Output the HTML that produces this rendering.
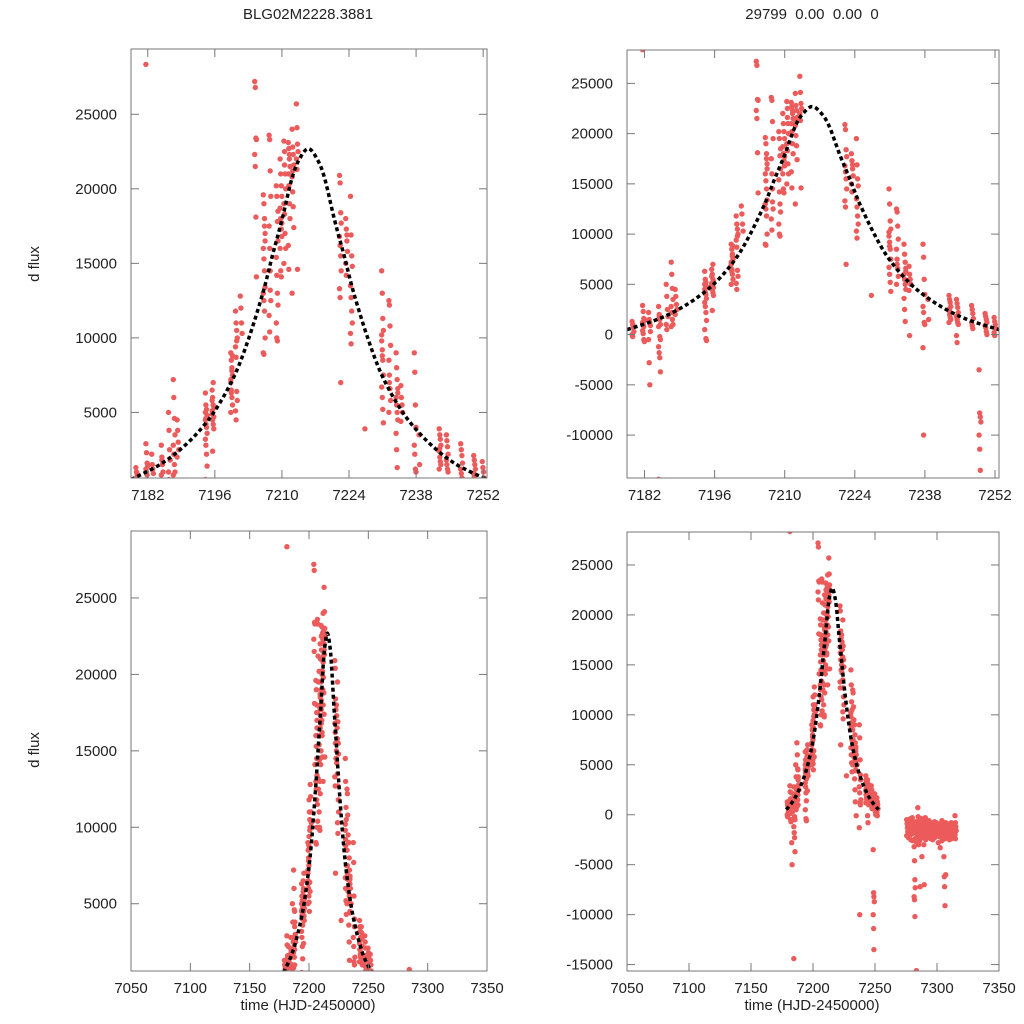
<!DOCTYPE html>
<html><head><meta charset="utf-8"><style>
html,body{margin:0;padding:0;background:#fff;width:1024px;height:1024px;overflow:hidden;}
svg{display:block;font-family:"Liberation Sans",sans-serif;}
</style></head><body>
<svg id="fig" width="1024" height="1024" viewBox="0 0 1024 1024" xmlns="http://www.w3.org/2000/svg">
<text x="308" y="19" font-size="15" text-anchor="middle" fill="#222">BLG02M2228.3881</text>
<text x="812" y="19" font-size="15" text-anchor="middle" fill="#222" xml:space="preserve">29799  0.00  0.00  0</text>
<text x="308" y="1010" font-size="15" text-anchor="middle" fill="#222">time (HJD-2450000)</text>
<text x="812" y="1010" font-size="15" text-anchor="middle" fill="#222">time (HJD-2450000)</text>
<text transform="translate(39,264) rotate(-90)" font-size="15" text-anchor="middle" fill="#222">d flux</text>
<text transform="translate(39,750) rotate(-90)" font-size="15" text-anchor="middle" fill="#222">d flux</text>
</svg>
<script>
// ---- data: nightly clusters (time, flux values) ----
const clusterT = [7179.7,7181.8,7183,7185,7186.5,7187.5,7188.3,7194.2,7195.6,7199.5,7200.5,7201.5,7204.5,7206.3,7207.5,7209,7209.8,7210.6,7211.5,7212.3,7213.2,7222.2,7223.5,7224.5,7227.5,7231,7232.5,7234,7235,7237.8,7238.8,7243,7244.5,7247.5,7249,7250.2,7252];
const clusterF = [
 [1300,1000,700,300,0,-200,900],
 [2900,2300,1600,1400,1200,1000,800,1500,400,100,-500,-700,28350],
 [2200,1500,1200,900,-500,-2800,-5000,300],
 [2800,2000,1500,1000,800,1800,-200,-500,-1200,-1800,-2300,-3700,-14400],
 [5000,3800,2500,1800,1000,500],
 [7200,6000,4600,3500,2800,2200,1500,1000,800],
 [4500,3800,3000,2500,2000],
 [6300,5500,5200,4800,4500,4200,4000,3600,3200,2800,2200,1400,5000,4600,-400,-600,500],
 [6500,6000,5500,5300,4900,4500,4200,3900,5800,2400,7000,4700,5100],
 [9000,8500,8000,7500,7000,6500,6000,5500,5000,6300,7800,8800,7200],
 [11800,11000,10500,10000,9400,8700,6400,5800,5100,4500,9800],
 [12800,12000,11000,10300],
 [27200,26800,23400,23300,22300,21500,18100,14100],
 [19600,19000,18000,17000,16000,15300,14500,13400,13000,12500,11800,10000,9000,8900,17500,16500],
 [23600,23300,21200,19500,17500,16000,14500,12500,11500,10400,13200],
 [20200,19500,17800,16500,15400,14200,13000,12200,11000,10000,9800,18500],
 [22000,21000,20200,19500,18700,18000,17300,16800,16000,14500,14100,17700],
 [23200,22500,21000,20000,19000,18300,17000,16000,15000,21600],
 [23100,22700,22000,21500,21000,20200,19000,18000,16200,14600,22300],
 [24000,22800,22300,21600,20800,19800,18800,17400,13000,21200],
 [25700,24100,23000,22500,22000,21300,14600],
 [20900,20400,18400,17700,16800,16200,15500,14500,13300,12700,7000],
 [18000,17300,16500,15800,15000,14200,16900],
 [19500,16900,15500,14800,13500,12700,11800,11000,10300,9600],
 [3900],
 [14500,13000,11300,10500,9800,9200,8500,7500,6700,6000,5200,4300,10200,8800],
 [12500,12200,10800,9500,8500,7500,6600,5800,5000,7000],
 [9000,8000,7200,6600,6000,5500,5000,4500,3600,2500,1300,6300],
 [6800,6000,5500,5000,4400,-100],
 [9000,7700,5500,4000,2800,2200,1200,1000,-1300,-10000],
 [3500,1500],
 [3900,3500,3200,2800,2400,2000,1700,1500,1200,2600],
 [3500,3100,2700,2200,1800,1500,1200,1000,-100,-800],
 [2900,2500,2100,1600,1200,900,600],
 [-3500,-7800,-8200,-8700,-10000,-11400,-13500],
 [2100,1800,1500,1200,900,700,300,0],
 [1700,1300,1000,600,200,-100]
];
const lateT = [7276,7277.5,7279,7280.5,7282,7283.5,7285,7286.5,7288,7289.5,7291,7292.5,7294,7295.5,7297,7298.5,7300,7301.5,7303,7304.5,7306,7307.5,7309,7310.5,7312,7313.5,7315];
const lateF = [
 [-500,-900,-1300,-1700,-2100],
 [-600,-1000,-1400,-1900,-2300,-1200],
 [-400,-800,-1200,-1600,-2000,-2500],
 [-300,-700,-1100,-1500,-1900,-2600],
 [-900,-1300,-1800,-2400,-3200,-4600,-6500,-7300,-8200,-8500,-10200],
 [-700,-1100,-1500,-2000,-2700,-15600],
 [700,-200,-800,-1300,-1700,-2200,-3000],
 [-500,-1000,-1500,-2000,-2600,-7200],
 [-400,-900,-1300,-1700,-2100,-4200],
 [-600,-1000,-1400,-1800,-2300,-3000,-7000],
 [-300,-800,-1200,-1600,-2000,-2500],
 [-700,-1100,-1500,-1900,-2300],
 [-600,-1000,-1400,-1800,-2200],
 [-800,-1200,-1600,-2000,-2400],
 [-900,-1300,-1700,-2100,-2500],
 [-700,-1100,-1500,-1900,-2300],
 [-800,-1200,-1600,-2000],
 [-1000,-1400,-1800,-2200,-2800],
 [-900,-1300,-1700,-2100,-3300],
 [-600,-1100,-1500,-2000,-2600],
 [-900,-1300,-1800,-2400,-4200,-6200,-7200,-9100],
 [-800,-1200,-1600,-2000,-6000],
 [-1000,-1400,-1800,-2200],
 [-900,-1300,-1700,-2100,-2500],
 [-800,-1200,-1600,-2000,-2400],
 [-1000,-1400,-1800,-2200],
 [-100,-800,-1200,-1600,-2000,-2400]
];
// ---- model fit curve ----
const modelT = [7178.5,7184,7188,7192,7196,7200,7203,7206,7208,7210,7212,7213.5,7215.5,7217.5,7219,7221,7223,7225,7228,7231,7235,7239,7243,7247,7252.8];
const modelF = [500,1400,2300,3500,5100,7400,9900,13000,15500,17900,20600,21900,22700,21900,20600,17900,15500,13000,9900,7400,5100,3500,2300,1400,500];
// ---- tick labels ----
const ticksXZoom = [7182,7196,7210,7224,7238,7252];
const ticksXFull = [7050,7100,7150,7200,7250,7300,7350];
const ticksYPos = [5000,10000,15000,20000,25000];
const ticksYTR = [-10000,-5000,0,5000,10000,15000,20000,25000];
const ticksYBR = [-15000,-10000,-5000,0,5000,10000,15000,20000,25000];

const NS = "http://www.w3.org/2000/svg";
const svg = document.getElementById('fig');
function mk(tag, attrs, parent){const e=document.createElementNS(NS,tag);for(const k in attrs)e.setAttribute(k,attrs[k]);(parent||svg).appendChild(e);return e;}

const panels = [
 {id:'top-left', x0:131,x1:487,y0:49,y1:478, xd:[7178.5,7252.8], yd:[600,29380], xt:ticksXZoom, yt:ticksYPos},
 {id:'top-right', x0:627,x1:999,y0:50,y1:478, xd:[7178.5,7252.8], yd:[-14270,28320], xt:ticksXZoom, yt:ticksYTR},
 {id:'bottom-left', x0:131,x1:487,y0:531,y1:971, xd:[7050,7350], yd:[600,29380], xt:ticksXFull, yt:ticksYPos},
 {id:'bottom-right', x0:627,x1:999,y0:532,y1:971, xd:[7050,7350], yd:[-15640,28300], xt:ticksXFull, yt:ticksYBR}
];

panels.forEach(p=>{
  const sx = t => p.x0 + (t-p.xd[0])/(p.xd[1]-p.xd[0])*(p.x1-p.x0);
  const sy = v => p.y1 - (v-p.yd[0])/(p.yd[1]-p.yd[0])*(p.y1-p.y0);
  const g = mk('g',{});
  
  
  const cp = mk('clipPath',{id:'clip-'+p.id},g);
  mk('rect',{x:p.x0,y:p.y0,width:p.x1-p.x0,height:p.y1-p.y0},cp);
  const pts = mk('g',{'clip-path':'url(#clip-'+p.id+')',fill:'#ec5b5b'},g);
  
  
  const spread = (p.xd[1]-p.xd[0])>100 ? 0.3 : 0.12;
  clusterT.forEach((t,i)=>{
    clusterF[i].forEach((f,j)=>{
      const c = mk('circle',{cx:sx(t+((j%4)-1.5)*spread).toFixed(1),cy:sy(f).toFixed(1),r:2.7},pts);
      
      
    });
  });
  lateT.forEach((t,i)=>{
    lateF[i].forEach((f,j)=>{
      const c = mk('circle',{cx:sx(t+((j%4)-1.5)*0.3).toFixed(1),cy:sy(f).toFixed(1),r:2.7},pts);
      
      
    });
  });
  // smooth curve through model points (Catmull-Rom)
  const P = modelT.map((t,i)=>[sx(t),sy(modelF[i])]);
  let d = 'M'+P[0][0].toFixed(1)+','+P[0][1].toFixed(1);
  for(let i=0;i<P.length-1;i++){
    const p0=P[Math.max(0,i-1)],p1=P[i],p2=P[i+1],p3=P[Math.min(P.length-1,i+2)];
    const c1=[p1[0]+(p2[0]-p0[0])/6,p1[1]+(p2[1]-p0[1])/6];
    const c2=[p2[0]-(p3[0]-p1[0])/6,p2[1]-(p3[1]-p1[1])/6];
    d+=' C'+c1[0].toFixed(1)+','+c1[1].toFixed(1)+' '+c2[0].toFixed(1)+','+c2[1].toFixed(1)+' '+p2[0].toFixed(1)+','+p2[1].toFixed(1);
  }
  const ml = mk('path',{d:d,fill:'none',stroke:'#000','stroke-width':3.5,'stroke-dasharray':'4,3','stroke-linejoin':'round','clip-path':'url(#clip-'+p.id+')'},g);
  
  
  const fr = mk('rect',{x:p.x0,y:p.y0,width:p.x1-p.x0,height:p.y1-p.y0,fill:'none',stroke:'#777','stroke-width':1},g);
  
  
  p.xt.forEach(t=>{
    const x = sx(t);
    mk('line',{x1:x,x2:x,y1:p.y1,y2:p.y1-8,stroke:'#777'},g);
    mk('line',{x1:x,x2:x,y1:p.y0,y2:p.y0+8,stroke:'#777'},g);
    const tx = mk('text',{x:x,y:p.y1+22,'font-size':15,'text-anchor':'middle',fill:'#222'},g);
    tx.textContent = t;
    
    
  });
  p.yt.forEach(v=>{
    const y = sy(v);
    mk('line',{x1:p.x0,x2:p.x0+8,y1:y,y2:y,stroke:'#777'},g);
    mk('line',{x1:p.x1,x2:p.x1-8,y1:y,y2:y,stroke:'#777'},g);
    const tx = mk('text',{x:p.x0-14,y:y+5,'font-size':15,'text-anchor':'end',fill:'#222'},g);
    tx.textContent = v;
    
    
  });
});
</script>
</body></html>
